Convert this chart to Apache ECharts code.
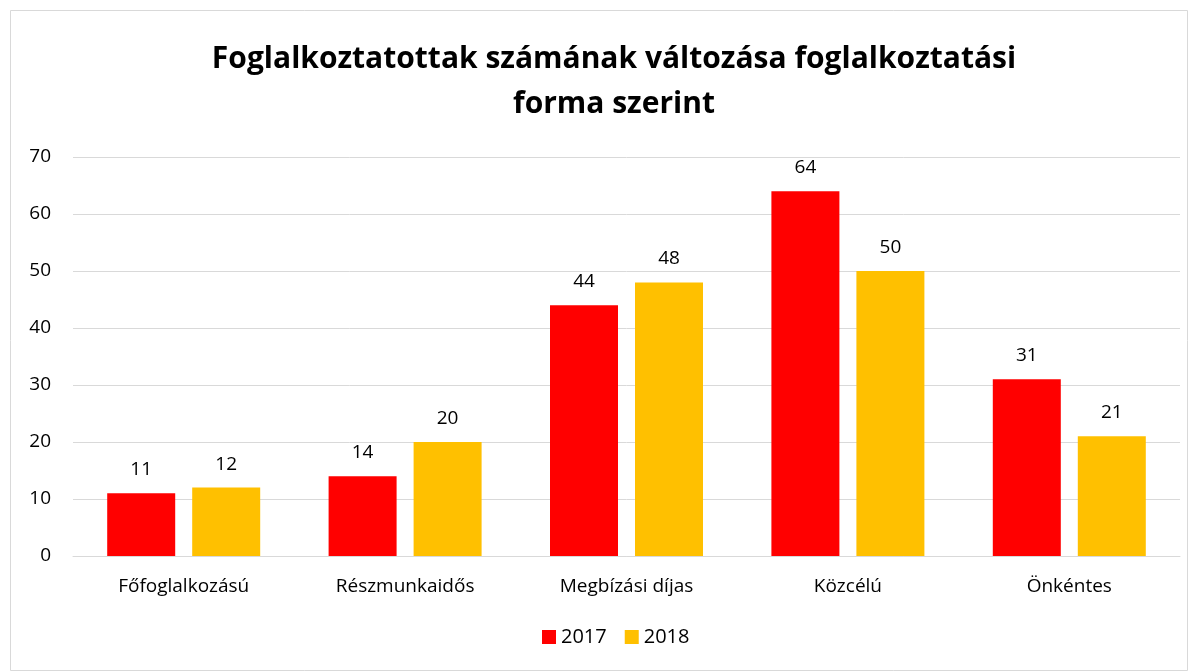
<!DOCTYPE html>
<html><head><meta charset="utf-8">
<script src="https://cdn.jsdelivr.net/npm/echarts@6/dist/echarts.min.js"></script>
<style>html,body{margin:0;padding:0;background:#fff}#c{width:1198px;height:672px}</style>
</head><body><div id="c"></div>
<script>
const categories = ['Főfoglalkozású', 'Részmunkaidős', 'Megbízási díjas', 'Közcélú', 'Önkéntes'];
const values2017 = [11, 14, 44, 64, 31];
const values2018 = [12, 20, 48, 50, 21];
const seriesNames = ['2017', '2018'];
const titleText = 'Foglalkoztatottak számának változása foglalkoztatási\nforma szerint';

const font = '"Open Sans", Lato, "Noto Sans", sans-serif';
const chart = echarts.init(document.getElementById('c'));
chart.setOption({
  animation: false,
  backgroundColor: '#fff',
  title: {
    text: titleText, left: 609, top: 32, textAlign: 'center',
    textStyle: { fontFamily: font, fontSize: 30, fontWeight: 'bold', color: '#000', lineHeight: 45 }
  },
  graphic: [{ type: 'rect', shape: { x: 10.5, y: 10.5, width: 1177, height: 660 },
    style: { fill: 'none', stroke: '#d9d9d9', lineWidth: 1 }, silent: true }],
  legend: {
    bottom: 20, left: 537, itemWidth: 14, itemHeight: 14, itemGap: 18,
    icon: 'rect',
    textStyle: { fontFamily: font, fontSize: 20, color: '#000' }
  },
  grid: { left: 73, right: 18, top: 157, bottom: 116 },
  xAxis: {
    type: 'category', data: categories,
    axisLine: { show: true, lineStyle: { color: '#d9d9d9', width: 1 } },
    axisTick: { show: false },
    axisLabel: { fontFamily: font, fontSize: 19, color: '#000', margin: 21 }
  },
  yAxis: {
    type: 'value', min: 0, max: 70, interval: 10,
    axisLine: { show: false }, axisTick: { show: false },
    splitLine: { lineStyle: { color: '#d9d9d9', width: 1 } },
    axisLabel: { fontFamily: font, fontSize: 19, color: '#000', margin: 22 }
  },
  series: [
    { name: seriesNames[0], type: 'bar', data: values2017, barWidth: 68, barGap: '25%',
      itemStyle: { color: '#FF0000' },
      label: { show: true, position: 'top', distance: 14, fontFamily: font, fontSize: 19, color: '#000' } },
    { name: seriesNames[1], type: 'bar', data: values2018, barWidth: 68,
      itemStyle: { color: '#FFC000' },
      label: { show: true, position: 'top', distance: 14, fontFamily: font, fontSize: 19, color: '#000' } }
  ]
});
</script></body></html>
